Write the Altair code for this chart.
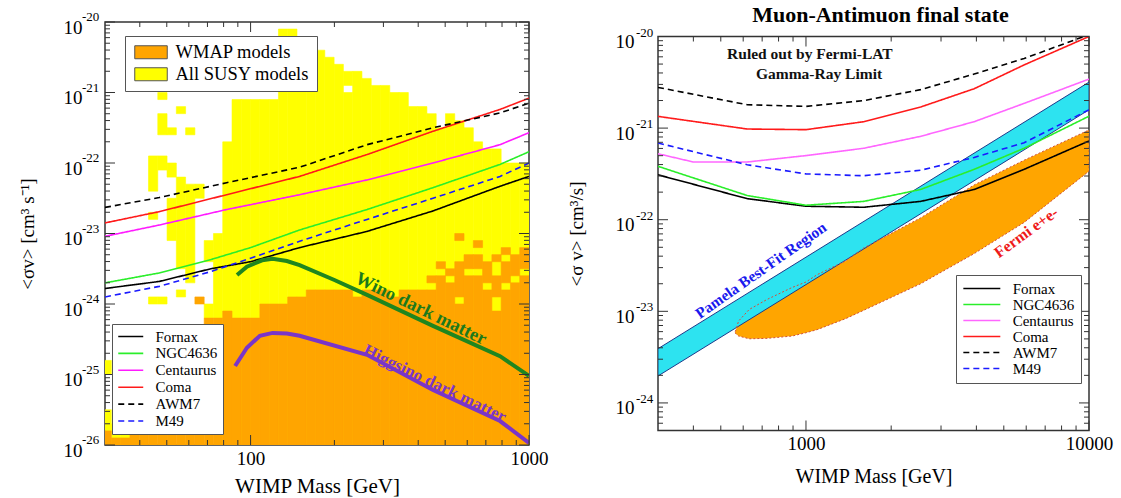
import altair as alt
import pandas as pd

SERIF = "Liberation Serif"

# ------------------------------------------------------------------ series
SERIES = ["Fornax", "NGC4636", "Centaurus", "Coma", "AWM7", "M49"]
DASHES = [[1, 0], [1, 0], [1, 0], [1, 0], [6, 4], [6, 4]]
L_COLORS = ["#000000", "#2aee2a", "#ff1aff", "#ff1a1a", "#000000", "#1a1aff"]
R_COLORS = ["#000000", "#2aee2a", "#ff66ff", "#ff1a1a", "#000000", "#1a1aff"]

# ---------------- left panel: cluster limits (mass GeV, log10 <sigma v>)
L_FORNAX_M = [30, 47, 72, 100, 150, 262, 452, 787, 1000]
L_FORNAX = [-23.78, -23.68, -23.50, -23.40, -23.20, -22.97, -22.68, -22.33, -22.19]
L_NGC_M = [30, 47, 72, 100, 150, 262, 452, 787, 1000]
L_NGC = [-23.70, -23.56, -23.37, -23.20, -22.95, -22.66, -22.35, -22.02, -21.84]
L_CEN_M = [30, 47, 82, 150, 262, 452, 787, 1000]
L_CEN = [-23.04, -22.88, -22.66, -22.45, -22.24, -22.00, -21.74, -21.57]
L_COMA_M = [30, 47, 82, 150, 262, 452, 787, 1000]
L_COMA = [-22.85, -22.69, -22.45, -22.19, -21.88, -21.55, -21.24, -21.08]
L_AWM7_M = [30, 47, 82, 150, 262, 452, 787, 1000]
L_AWM7 = [-22.63, -22.49, -22.28, -22.06, -21.74, -21.50, -21.29, -21.15]
L_M49_M = [30, 47, 72, 100, 150, 262, 452, 787, 1000]
L_M49 = [-23.90, -23.75, -23.54, -23.35, -23.11, -22.80, -22.50, -22.19, -22.00]

WINO_M = [89.4, 97, 110, 120, 135, 150, 200, 262, 452, 787, 1000]
WINO = [-23.59, -23.47, -23.38, -23.36, -23.39, -23.45, -23.66, -23.87, -24.31, -24.74, -25.02]
HIGGS_M = [88, 97, 108, 120, 135, 150, 262, 452, 787, 1000]
HIGGS = [-24.88, -24.62, -24.45, -24.41, -24.42, -24.45, -24.72, -25.22, -25.66, -25.97]

# ---------------- left panel: model scan grid
# columns k: log10(mass) bins of 1/30 decade; rows j: log10(<sigma v>) bins
# of 0.1 decade counted downward from 1e-20
BODY_K = list(range(57, 90))
BODY_TOP = [17, 11, 11, 11, 11, 11, 1, 1, 3, 3, 4, 5, 6, 7, 7, 8, 9, 9, 10, 10,
            12, 12, 13, 15, 13, 14, 15, 17, 18, 18, 20, 20, 20]
YELLOW_HOLES = [(70, 9)]
YELLOW_EXTRA = [(44, 48, 49), (44, 55, 57), (45, 57, 59), (46, 58, 59),
                (49, 19, 23), (49, 27, 27), (49, 39, 39), (50, 10, 10),
                (50, 13, 15), (50, 19, 20), (50, 39, 39), (51, 15, 15),
                (51, 20, 21), (51, 25, 30), (52, 12, 12), (52, 22, 34),
                (52, 38, 38), (53, 15, 15), (53, 23, 36), (54, 23, 24),
                (55, 31, 33), (55, 40, 41), (56, 30, 41)]
ORANGE_K = list(range(44, 90))
ORANGE_TOP = [58, 59, 59, 44, 44, 44, 44, 44, 44, 44, 44, 42, 42, 41, 42, 42,
              42, 40, 40, 40, 39, 39, 38, 38, 38, 38, 38, 38, 38, 38, 38, 38,
              38, 38, 38, 36, 34, 35, 34, 33, 33, 34, 33, 34, 33, 32]
ORANGE_GAPS = [(71, 38), (75, 38), (79, 37), (80, 35), (81, 36), (82, 39),
               (83, 35), (84, 35), (85, 37), (86, 34), (86, 35), (86, 39),
               (86, 40), (87, 37), (88, 36), (89, 35)]
ORANGE_EXTRA = [(54, 39, 39), (82, 30, 30), (84, 31, 31), (87, 32, 32)]

# ---------------- right panel (mass GeV, log10 <sigma v>)
R_M = [300, 620, 1000, 1600, 2540, 3930, 5900, 10000]
R_FORNAX = [-21.51, -21.77, -21.853, -21.864, -21.80, -21.67, -21.45, -21.14]
R_NGC = [-21.417, -21.736, -21.842, -21.80, -21.67, -21.45, -21.22, -20.87]
R_CEN_M = [300, 400, 620, 1000, 1600, 2540, 3930, 5900, 10000]
R_CEN = [-21.28, -21.37, -21.37, -21.30, -21.22, -21.09, -20.93, -20.73, -20.465]
R_COMA = [-20.872, -21.01, -21.017, -20.93, -20.77, -20.57, -20.31, -20.0]
R_AWM7 = [-20.556, -20.745, -20.763, -20.70, -20.58, -20.41, -20.24, -19.98]
R_M49 = [-21.163, -21.40, -21.50, -21.52, -21.46, -21.32, -21.16, -20.80]

PAMELA_M = [300, 10000]
PAMELA_HI = [-23.408, -20.498]
PAMELA_LO = [-23.706, -20.80]

FERMI_M = [561, 578, 630, 729, 893, 1000, 1095, 1381, 1596, 2540, 3930, 5900, 10000]
FERMI_LO = [-23.234, -23.27, -23.30, -23.295, -23.27, -23.234, -23.20, -23.08,
            -22.99, -22.70, -22.37, -22.03, -21.47]
FERMI_HI = [-23.234, -23.106, -22.98, -22.87, -22.74, -22.68, -22.60, -22.45,
            -22.31, -21.98, -21.62, -21.35, -21.02]

# ---------------- tick values
L_X_MAJOR = [100, 1000]
L_X_MINOR = [40, 50, 60, 70, 80, 90, 200, 300, 400, 500, 600, 700, 800, 900]
L_Y_EXP = [-20, -21, -22, -23, -24, -25, -26]
R_X_MAJOR = [1000, 10000]
R_X_MINOR = [400, 500, 600, 700, 800, 900, 2000, 3000, 4000, 5000, 6000, 7000, 8000, 9000]
R_Y_EXP = [-20, -21, -22, -23, -24]

# ================================================================ helpers
W_L, H_L = 424, 423
W_R, H_R = 431, 394


def lines_df(items):
    rows = []
    for name, ms, lv in items:
        for m, v in zip(ms, lv):
            rows.append({"m": m, "v": 10 ** v, "series": name})
    return pd.DataFrame(rows)


def minor_y(exps, lo):
    vals = []
    for e in exps:
        for d in range(2, 10):
            v = d * 10.0 ** (e - 1)
            if v >= lo:
                vals.append(v)
    return vals


def runs(cells):
    out = []
    for k in sorted(cells):
        rows = sorted(cells[k])
        start = prev = rows[0]
        for r in rows[1:]:
            if r != prev + 1:
                out.append((k, start, prev))
                start = r
            prev = r
        out.append((k, start, prev))
    return out


def grid_df(run_list, label):
    rows = []
    for k, j0, j1 in run_list:
        rows.append({"x": 10 ** (k / 30), "x2": 10 ** ((k + 1) / 30),
                     "y": 10 ** (-20 - 0.1 * j0), "y2": 10 ** (-20 - 0.1 * (j1 + 1)),
                     "type": label})
    return pd.DataFrame(rows)


# ---------------- build grid cell runs
yellow = {}
for k, top in zip(BODY_K, BODY_TOP):
    yellow.setdefault(k, set()).update(range(top, 60))
for k, j in YELLOW_HOLES:
    yellow[k].discard(j)
for k, j0, j1 in YELLOW_EXTRA:
    yellow.setdefault(k, set()).update(range(j0, j1 + 1))
orange = {}
for k, top in zip(ORANGE_K, ORANGE_TOP):
    orange.setdefault(k, set()).update(range(top, 60))
for k, j in ORANGE_GAPS:
    orange[k].discard(j)
for k, j0, j1 in ORANGE_EXTRA:
    orange.setdefault(k, set()).update(range(j0, j1 + 1))

df_yellow = grid_df(runs(yellow), "All SUSY models")
df_orange = grid_df(runs(orange), "WMAP models")

# ================================================================ scales / axes
XL = alt.Scale(type="log", domain=[30, 1000], nice=False)
YL = alt.Scale(type="log", domain=[1e-26, 1e-20], nice=False)
XR = alt.Scale(type="log", domain=[300, 10000], nice=False)
YR = alt.Scale(type="log", domain=[5e-25, 1e-20], nice=False)

AX_COMMON = dict(ticks=False, domain=False, grid=False, labelFont=SERIF,
                 labelColor="black", titleFont=SERIF, titleColor="black",
                 titleFontWeight="normal", labelFlush=False)

AXL_X = alt.Axis(values=L_X_MAJOR, format="d", title="WIMP Mass [GeV]",
                 labelFontSize=19, titleFontSize=21, labelPadding=4,
                 minExtent=23, maxExtent=23, titlePadding=7, **AX_COMMON)
AXL_Y = alt.Axis(values=[10.0 ** e for e in L_Y_EXP], labelExpr="'10'",
                 title="<σv>  [cm³ s⁻¹]", labelFontSize=19, titleFontSize=19,
                 labelPadding=23, labelOffset=5, minExtent=60, maxExtent=60,
                 titlePadding=8, **AX_COMMON)
AXR_X = alt.Axis(values=R_X_MAJOR, format="d", title="WIMP Mass [GeV]",
                 labelFontSize=19, titleFontSize=20, labelPadding=4,
                 minExtent=23, maxExtent=23, titlePadding=13, **AX_COMMON)
AXR_Y = alt.Axis(values=[10.0 ** e for e in R_Y_EXP], labelExpr="'10'",
                 title="<σ v> [cm³/s]", labelFontSize=19, titleFontSize=19,
                 labelPadding=24, labelOffset=5, minExtent=62, maxExtent=62,
                 titlePadding=10, **AX_COMMON)


def xl(f):
    return alt.X(f, scale=XL, axis=AXL_X)


def yl(f):
    return alt.Y(f, scale=YL, axis=AXL_Y)


def xr(f):
    return alt.X(f, scale=XR, axis=AXR_X)


def yr(f):
    return alt.Y(f, scale=YR, axis=AXR_Y)


def tick_layers(fx, fy, xmaj, xmin, ymaj, ymin, W, H):
    layers = []
    tc = "#333333"
    for vals, ln in ((xmaj, 10), (xmin, 5)):
        d = pd.DataFrame({"t": vals})
        for y0, y1 in ((H, H - ln), (0, ln)):
            layers.append(alt.Chart(d).mark_rule(color=tc, strokeWidth=1).encode(
                x=fx("t:Q"), y=alt.value(y0), y2=alt.value(y1)))
    for vals, ln in ((ymaj, 10), (ymin, 5)):
        d = pd.DataFrame({"t": vals})
        for x0, x1 in ((0, ln), (W, W - ln)):
            layers.append(alt.Chart(d).mark_rule(color=tc, strokeWidth=1).encode(
                y=fy("t:Q"), x=alt.value(x0), x2=alt.value(x1)))
    return layers


def exponent_layer(fy, exps, xpx, dy):
    d = pd.DataFrame({"t": [10.0 ** e for e in exps], "s": [str(e) for e in exps]})
    return alt.Chart(d).mark_text(font=SERIF, fontSize=13, align="left", baseline="middle",
                                  dy=dy, color="black").encode(
        y=fy("t:Q"), x=alt.value(xpx), text="s:N")


FILL_SCALE = alt.Scale(domain=["WMAP models", "All SUSY models"], range=["#FFA500", "#FFFF00"])
FILL_LEGEND = alt.Legend(title=None, orient="none", legendX=20, legendY=14, direction="vertical",
                         symbolType="M-1,-1L4,-1L4,1L-1,1Z", symbolSize=169,
                         symbolStrokeColor="#555555", symbolStrokeWidth=1,
                         labelFont=SERIF, labelFontSize=18.5, labelColor="black",
                         labelOffset=25, rowPadding=3, padding=7,
                         fillColor="white", strokeColor="#555555")


def line_legend(x, y, shape, size, fs, off, rp, pad):
    return alt.Legend(title=None, orient="none", legendX=x, legendY=y, direction="vertical",
                      symbolType=shape, symbolSize=size, symbolStrokeWidth=1.6,
                      labelFont=SERIF, labelFontSize=fs, labelColor="black",
                      labelOffset=off, rowPadding=rp, padding=pad,
                      fillColor="white", strokeColor="#555555")


# ================================================================ left chart
yellow_layer = alt.Chart(df_yellow).mark_rect(stroke="#FFFF00", strokeWidth=0.6, clip=True).encode(
    x=xl("x:Q"), x2="x2:Q", y=yl("y:Q"), y2="y2:Q",
    fill=alt.Fill("type:N", scale=FILL_SCALE, legend=FILL_LEGEND))
orange_layer = alt.Chart(df_orange).mark_rect(stroke="#FFA500", strokeWidth=0.6, clip=True).encode(
    x=xl("x:Q"), x2="x2:Q", y=yl("y:Q"), y2="y2:Q",
    fill=alt.Fill("type:N", scale=FILL_SCALE, legend=FILL_LEGEND))

df_L = lines_df([("Fornax", L_FORNAX_M, L_FORNAX), ("NGC4636", L_NGC_M, L_NGC),
                 ("Centaurus", L_CEN_M, L_CEN), ("Coma", L_COMA_M, L_COMA),
                 ("AWM7", L_AWM7_M, L_AWM7), ("M49", L_M49_M, L_M49)])
LEG_L = line_legend(7, 302, "M-1,0L3,0", 156, 15, 23.5, 0.9, 5)
lines_L = alt.Chart(df_L).mark_line(strokeWidth=1.6, clip=True).encode(
    x=xl("m:Q"), y=yl("v:Q"),
    stroke=alt.Stroke("series:N", scale=alt.Scale(domain=SERIES, range=L_COLORS), legend=LEG_L),
    strokeDash=alt.StrokeDash("series:N", scale=alt.Scale(domain=SERIES, range=DASHES), legend=LEG_L),
    detail="series:N")

df_w = lines_df([("Wino", WINO_M, WINO)])
df_h = lines_df([("Higgsino", HIGGS_M, HIGGS)])
wino = alt.Chart(df_w).mark_line(strokeWidth=4, color="#1f861f", clip=True).encode(
    x=xl("m:Q"), y=yl("v:Q"))
higgs = alt.Chart(df_h).mark_line(strokeWidth=4, color="#7a35c8", clip=True).encode(
    x=xl("m:Q"), y=yl("v:Q"))

df_txtL = pd.DataFrame([
    {"m": 410, "v": 10 ** -24.06, "t": "Wino dark matter", "c": "#1c7a1c", "a": 26, "s": 18.5},
    {"m": 459, "v": 10 ** -25.13, "t": "Higgsino dark matter", "c": "#7a35c8", "a": 26, "s": 17},
])
txt_L = [alt.Chart(df_txtL.iloc[[i]]).mark_text(font=SERIF, fontWeight="bold", fontSize=float(r.s),
                                                  angle=float(r.a), color=r.c).encode(
    x=xl("m:Q"), y=yl("v:Q"), text="t:N")
    for i, r in enumerate(df_txtL.itertuples())]

ticks_L = tick_layers(xl, yl, L_X_MAJOR, L_X_MINOR, [10.0 ** e for e in L_Y_EXP],
                      minor_y(L_Y_EXP[:-1], 1e-26), W_L, H_L)
exp_L = exponent_layer(yl, L_Y_EXP, -23, -5)

left = alt.layer(yellow_layer, orange_layer, lines_L, wino, higgs, *txt_L, *ticks_L, exp_L).properties(
    width=W_L, height=H_L)

# ================================================================ right chart
df_fermi = pd.DataFrame({"m": FERMI_M, "lo": [10 ** v for v in FERMI_LO],
                         "hi": [10 ** v for v in FERMI_HI]})
fermi = alt.Chart(df_fermi).mark_area(color="#FFA500", opacity=1, clip=True).encode(
    x=xr("m:Q"), y=yr("hi:Q"), y2="lo:Q")

outline_rows = []
for i, (m, v) in enumerate(zip(FERMI_M, FERMI_LO)):
    outline_rows.append({"m": m, "v": 10 ** v, "o": i})
for i, (m, v) in enumerate(zip(FERMI_M[::-1], FERMI_HI[::-1])):
    outline_rows.append({"m": m, "v": 10 ** v, "o": len(FERMI_M) + i})
fermi_outline = alt.Chart(pd.DataFrame(outline_rows)).mark_line(
    color="#d0503a", strokeWidth=1, strokeDash=[2, 2], clip=True).encode(
    x=xr("m:Q"), y=yr("v:Q"), order="o:Q")

df_pam = pd.DataFrame({"m": PAMELA_M, "lo": [10 ** v for v in PAMELA_LO],
                       "hi": [10 ** v for v in PAMELA_HI]})
pamela = alt.Chart(df_pam).mark_area(color="#2de3f0", opacity=1, stroke="#1d3a8a",
                                     strokeWidth=1, clip=True).encode(
    x=xr("m:Q"), y=yr("hi:Q"), y2="lo:Q")

df_R = lines_df([("Fornax", R_M, R_FORNAX), ("NGC4636", R_M, R_NGC),
                 ("Centaurus", R_CEN_M, R_CEN), ("Coma", R_M, R_COMA),
                 ("AWM7", R_M, R_AWM7), ("M49", R_M, R_M49)])
LEG_R = line_legend(298, 238.5, "M-1,0L5,0", 152, 15, 35.7, 0, 6)
lines_R = alt.Chart(df_R).mark_line(strokeWidth=1.6, clip=True).encode(
    x=xr("m:Q"), y=yr("v:Q"),
    stroke=alt.Stroke("series:N", scale=alt.Scale(domain=SERIES, range=R_COLORS), legend=LEG_R),
    strokeDash=alt.StrokeDash("series:N", scale=alt.Scale(domain=SERIES, range=DASHES), legend=LEG_R),
    detail="series:N")

df_txtR = pd.DataFrame([
    {"m": 1032, "v": 6.5e-21, "t": "Ruled out by Fermi-LAT", "c": "#111111", "a": 0, "s": 15.5},
    {"m": 1112, "v": 3.85e-21, "t": "Gamma-Ray Limit", "c": "#111111", "a": 0, "s": 15.5},
    {"m": 693, "v": 2.8e-23, "t": "Pamela Best-Fit Region", "c": "#1a1aee", "a": 325, "s": 15.5},
    {"m": 6000, "v": 10 ** -22.14, "t": "Fermi e+e-", "c": "#ee1a1a", "a": 324, "s": 16},
])
txt_R = [alt.Chart(df_txtR.iloc[[i]]).mark_text(font=SERIF, fontWeight="bold", fontSize=float(r.s),
                                                  angle=float(r.a), color=r.c).encode(
    x=xr("m:Q"), y=yr("v:Q"), text="t:N")
    for i, r in enumerate(df_txtR.itertuples())]

ticks_R = tick_layers(xr, yr, R_X_MAJOR, R_X_MINOR, [10.0 ** e for e in R_Y_EXP],
                      minor_y(R_Y_EXP, 5e-25), W_R, H_R)
exp_R = exponent_layer(yr, R_Y_EXP, -22, -4)

right = alt.layer(fermi, pamela, fermi_outline, lines_R, *txt_R, *ticks_R, exp_R).properties(
    width=W_R, height=H_R,
    title=alt.TitleParams("Muon-Antimuon final state", font=SERIF, fontSize=22,
                          fontWeight="bold", color="black", offset=0, dx=7, anchor="middle"))

chart = alt.hconcat(left, right, spacing=129, bounds="flush", center=True).resolve_scale(
    stroke="independent", strokeDash="independent", fill="independent"
).resolve_legend(stroke="independent", strokeDash="independent", fill="independent").properties(
    padding={"left": 17, "top": 2, "right": 5, "bottom": 5}, background="white"
).configure_view(stroke="#333333", strokeWidth=1.5)

chart.save("out.html", embed_options={"renderer": "svg", "actions": False})
